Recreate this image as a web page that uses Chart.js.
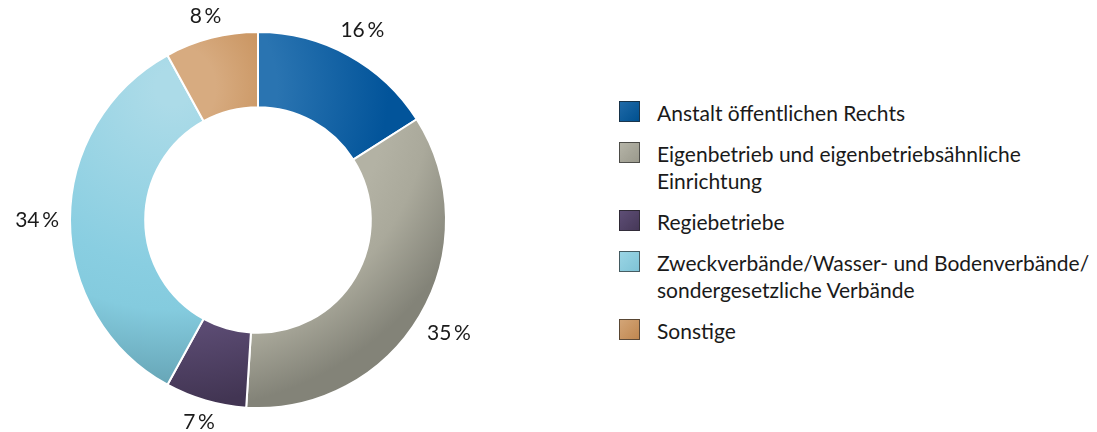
<!DOCTYPE html>
<html>
<head>
<meta charset="utf-8">
<script src="https://cdn.jsdelivr.net/npm/chart.js@4"></script>
<style>
  body { margin: 0; background: #fff; font-family: Lato, sans-serif; }
  #wrap { position: absolute; left: 0; top: 0; width: 516px; height: 432px; }
  #legend { position: absolute; left: 619px; top: 99px; margin: 0; padding: 0; list-style: none; }
  #legend li { position: relative; padding-left: 38px; font-size: 21px; line-height: 27px; margin-bottom: 14px; color: #1a1a1a; width: 440px; }
  #legend .box { position: absolute; left: 0; top: 2px; width: 21px; height: 21px; border: 1px solid rgba(30,30,30,.65); box-sizing: border-box; }
</style>
</head>
<body>
<div id="wrap"><canvas id="donut"></canvas></div>
<ul id="legend"></ul>
<script>
const categories = [
  ["Anstalt öffentlichen Rechts"],
  ["Eigenbetrieb und eigenbetriebsähnliche", "Einrichtung"],
  ["Regiebetriebe"],
  ["Zweckverbände/Wasser- und Bodenverbände/", "sondergesetzliche Verbände"],
  ["Sonstige"]
];
const shares = [16, 35, 7, 34, 8];
const shareLabels = shares.map((v) => v + "\u2009%");

// gradient stops per slice (shared radial light from the upper left)
const sliceStops = [
  [[0.29, "#2a74b1"], [0.6, "#02549a"]],
  [[0.6, "#b3b2a4"], [0.72, "#aaa99b"], [0.9, "#838378"]],
  [[0.66, "#5c4c74"], [0.88, "#423553"]],
  [[0.05, "#acdbe8"], [0.5, "#89cee1"], [0.62, "#84cbde"], [0.82, "#68a7b8"]],
  [[0.12, "#d7ab80"], [0.36, "#c38a52"]]
];
const swatchColors = [
  ["#1f6aa8", "#00508f"],
  ["#b5b4a7", "#9a998c"],
  ["#5e4e76", "#463858"],
  ["#9ad5e5", "#7fc3d6"],
  ["#d3a577", "#bf8750"]
];

function sliceGradient(context) {
  const chart = context.chart;
  const area = chart.chartArea;
  const stops = sliceStops[context.dataIndex];
  if (!area) return stops[0][1];
  const cx = (area.left + area.right) / 2;
  const cy = (area.top + area.bottom) / 2;
  const r = Math.min(area.right - area.left, area.bottom - area.top) / 2;
  const g = chart.ctx.createRadialGradient(cx - 0.45 * r, cy - 0.7 * r, 0, cx - 0.45 * r, cy - 0.7 * r, 1.9 * r);
  stops.forEach((s) => g.addColorStop(s[0], s[1]));
  return g;
}

const percentLabels = {
  id: "percentLabels",
  afterDatasetsDraw(chart) {
    const ctx = chart.ctx;
    const meta = chart.getDatasetMeta(0);
    ctx.save();
    ctx.font = "21px Lato, sans-serif";
    ctx.fillStyle = "#1a1a1a";
    ctx.textAlign = "center";
    ctx.textBaseline = "middle";
    meta.data.forEach((arc, i) => {
      const p = arc.getProps(["x", "y", "startAngle", "endAngle", "outerRadius"], true);
      const mid = (p.startAngle + p.endAngle) / 2;
      const w = ctx.measureText(shareLabels[i]).width;
      const dist = p.outerRadius + 11 + Math.abs(Math.cos(mid)) * w / 2 + Math.abs(Math.sin(mid)) * 8;
      ctx.fillText(shareLabels[i], p.x + Math.cos(mid) * dist, p.y + Math.sin(mid) * dist);
    });
    ctx.restore();
  }
};

new Chart(document.getElementById("donut"), {
  type: "doughnut",
  data: {
    labels: categories.map((c) => c.join(" ")),
    datasets: [{
      data: shares,
      backgroundColor: sliceGradient,
      borderColor: "#ffffff",
      borderWidth: 2
    }]
  },
  options: {
    responsive: true,
    maintainAspectRatio: false,
    animation: false,
    cutout: "60%",
    layout: { padding: { left: 69, right: 69, top: 31, bottom: 23 } },
    plugins: { legend: { display: false }, tooltip: { enabled: false } }
  },
  plugins: [percentLabels]
});

const legend = document.getElementById("legend");
categories.forEach((lines, i) => {
  const li = document.createElement("li");
  li.innerHTML = `<span class="box" style="background:linear-gradient(135deg, ${swatchColors[i][0]}, ${swatchColors[i][1]})"></span>` + lines.join("<br>");
  legend.appendChild(li);
});
</script>
</body>
</html>
